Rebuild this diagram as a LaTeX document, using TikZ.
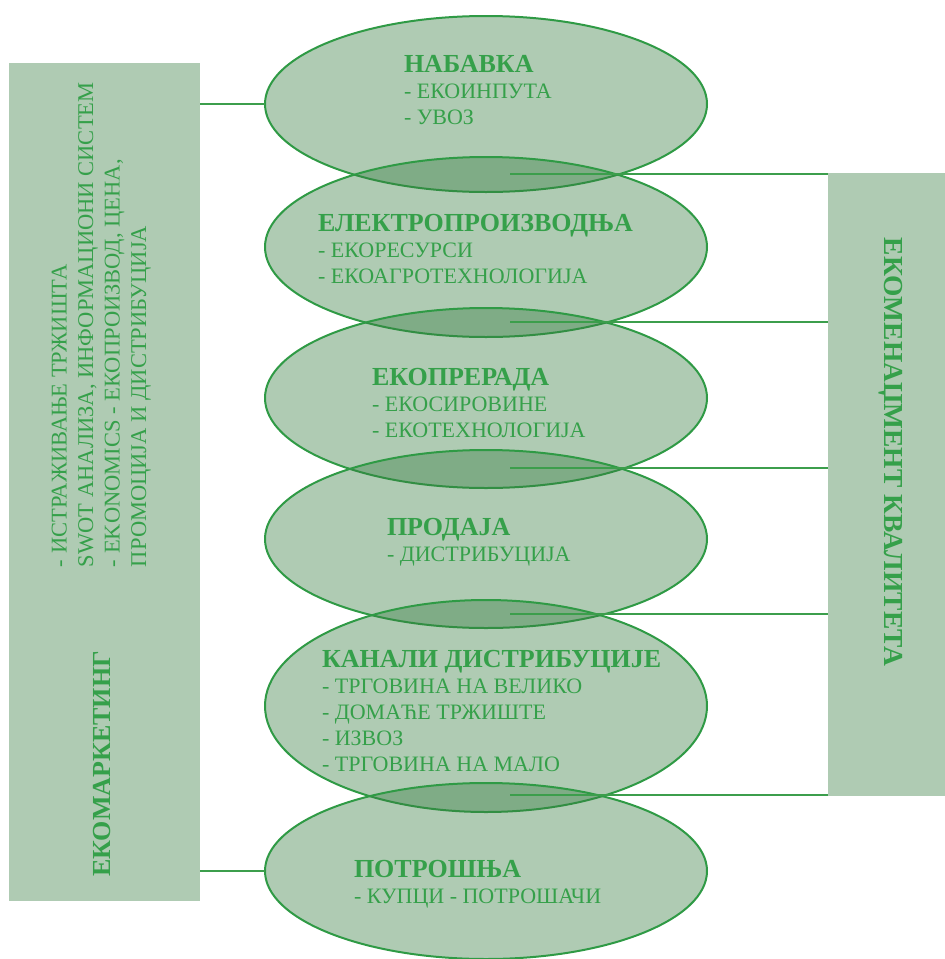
\documentclass[tikz,border=0pt]{standalone}
\usepackage{fontspec}
\setmainfont{Liberation Serif}
\usetikzlibrary{positioning,shapes.geometric}
\definecolor{leaf}{HTML}{AFCBB3}
\definecolor{moss}{HTML}{377D41}
\definecolor{rim}{HTML}{2F9A45}
\definecolor{wire}{HTML}{3C9E4C}
\definecolor{ink}{HTML}{35A04A}
\tikzset{
  box/.style   = {fill=leaf, inner sep=0pt, outer sep=0pt},
  stage/.style = {ellipse, draw=rim, line width=2pt, fill=moss, fill opacity=0.4, draw opacity=1,
                  minimum width=442pt, inner sep=0pt, outer sep=0pt},
  link/.style  = {draw=wire, line width=2.2pt},
  item/.style  = {font=\fontsize{22}{26}\selectfont\color{ink}, align=left, anchor=base west, inner sep=0pt, outer sep=0pt},
  head/.style  = {font=\fontsize{26}{30}\selectfont\bfseries\color{ink}, inner sep=0pt, outer sep=0pt},
}
\newcommand{\hd}[1]{{\fontsize{26}{26}\selectfont\bfseries #1}}

\begin{document}
\begin{tikzpicture}[x=1pt,y=-1pt]
\path[use as bounding box] (0,0) rectangle (945,959);

% ---- side panels --------------------------------------------------------
\node[box, anchor=north west, minimum width=191pt, minimum height=838pt] (lbox) at (9,63) {};
\node[box, anchor=north west, minimum width=117pt, minimum height=623pt] (rbox) at (828,173) {};

% base anchor sits on the last line
\node[item, font=\fontsize{22.5}{26.5}\selectfont\color{ink}, rotate=90] (mkt) at (146,567)
  {- ИСТРАЖИВАЊЕ ТРЖИШТА\\SWOT АНАЛИЗА, ИНФОРМАЦИОНИ СИСТЕМ\\- EKONOMICS - ЕКОПРОИЗВОД, ЦЕНА,\\ПРОМОЦИЈА И ДИСТРИБУЦИЈА};
\node[head, rotate=90] (mkthead) at (102,764) {ЕКОМАРКЕТИНГ};
\node[head, font=\fontsize{27.5}{30}\selectfont\bfseries\color{ink}, rotate=-90] (qhead) at (891,452) {ЕКОМЕНАЏМЕНТ КВАЛИТЕТА};

% ---- the chain ----------------------------------------------------------
\foreach \i/\y/\h in {1/104/176, 2/247/180, 3/398/180, 4/539/178, 5/706/212, 6/871/176}{%
  \node[stage, minimum height=\h pt] (st\i) at (486,\y) {};
}

\node[item] (t1) at (404,124) {\hd{НАБАВКА}\\- ЕКОИНПУТА\\- УВОЗ};
\node[item] (t2) at (318,283) {\hd{ЕЛЕКТРОПРОИЗВОДЊА}\\- ЕКОРЕСУРСИ\\- ЕКОАГРОТЕХНОЛОГИЈА};
\node[item] (t3) at (372,437) {\hd{ЕКОПРЕРАДА}\\- ЕКОСИРОВИНЕ\\- ЕКОТЕХНОЛОГИЈА};
\node[item] (t4) at (387,561) {\hd{ПРОДАЈА}\\- ДИСТРИБУЦИЈА};
\node[item] (t5) at (322,771) {\hd{КАНАЛИ ДИСТРИБУЦИЈЕ}\\- ТРГОВИНА НА ВЕЛИКО\\- ДОМАЋЕ ТРЖИШТЕ\\- ИЗВОЗ\\- ТРГОВИНА НА МАЛО};
\node[item] (t6) at (354,903) {\hd{ПОТРОШЊА}\\- КУПЦИ - ПОТРОШАЧИ};

% ---- links --------------------------------------------------------------
\draw[link] (lbox.east |- st1.west) -- (st1.west);
\draw[link] (lbox.east |- st6.west) -- (st6.west);
\foreach \i/\y in {1/174, 2/322, 3/468, 4/614, 5/795}{%
  \coordinate (lens\i) at (510,\y);
  \draw[link] (lens\i) -- (rbox.west |- lens\i);
}

\end{tikzpicture}
\end{document}
